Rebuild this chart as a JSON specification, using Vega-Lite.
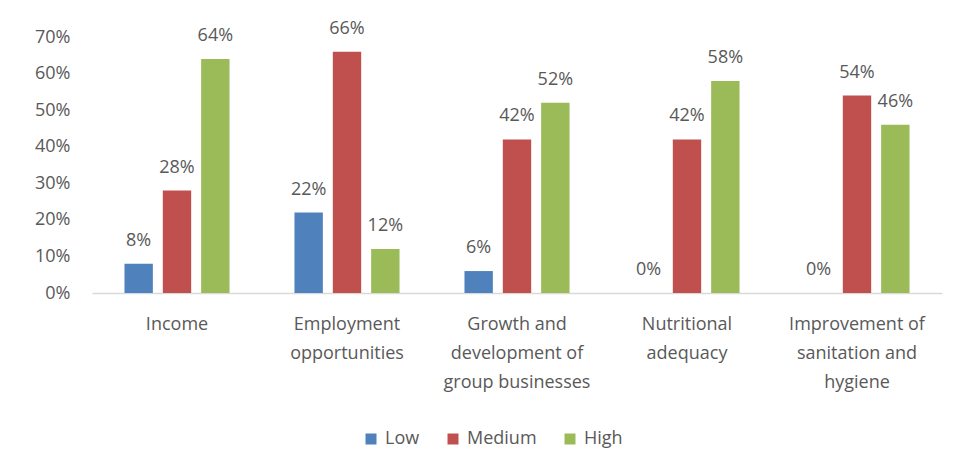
{
  "$schema": "https://vega.github.io/schema/vega-lite/v6.json",
  "width": 850,
  "height": 256,
  "autosize": {"type": "none"},
  "padding": {"left": 92, "top": 37, "right": 18, "bottom": 175},
  "background": "white",
  "config": {
    "view": {"stroke": null},
    "font": "Open Sans",
    "text": {"font": "Open Sans"}
  },
  "data": {
    "values": [
      {"category": "Income", "level": "Low", "value": 0.08},
      {"category": "Income", "level": "Medium", "value": 0.28},
      {"category": "Income", "level": "High", "value": 0.64},
      {"category": "Employment opportunities", "level": "Low", "value": 0.22},
      {"category": "Employment opportunities", "level": "Medium", "value": 0.66},
      {"category": "Employment opportunities", "level": "High", "value": 0.12},
      {"category": "Growth and development of group businesses", "level": "Low", "value": 0.06},
      {"category": "Growth and development of group businesses", "level": "Medium", "value": 0.42},
      {"category": "Growth and development of group businesses", "level": "High", "value": 0.52},
      {"category": "Nutritional adequacy", "level": "Low", "value": 0.0},
      {"category": "Nutritional adequacy", "level": "Medium", "value": 0.42},
      {"category": "Nutritional adequacy", "level": "High", "value": 0.58},
      {"category": "Improvement of sanitation and hygiene", "level": "Low", "value": 0.0},
      {"category": "Improvement of sanitation and hygiene", "level": "Medium", "value": 0.54},
      {"category": "Improvement of sanitation and hygiene", "level": "High", "value": 0.46}
    ]
  },
  "encoding": {
    "x": {
      "field": "category",
      "type": "nominal",
      "sort": null,
      "scale": {"paddingInner": 0.382, "paddingOuter": 0.191},
      "axis": {
        "title": null,
        "labelAngle": 0,
        "labelFontSize": 18,
        "labelColor": "#595959",
        "labelFont": "Open Sans",
        "labelLimit": 300,
        "labelPadding": 22,
        "labelLineHeight": 29,
        "labelBaseline": "top",
        "ticks": false,
        "tickSize": 0,
        "domainColor": "#D9D9D9",
        "domainWidth": 1.5,
        "labelExpr": "datum.value == 'Employment opportunities' ? ['Employment', 'opportunities'] : datum.value == 'Growth and development of group businesses' ? ['Growth and', 'development of', 'group businesses'] : datum.value == 'Nutritional adequacy' ? ['Nutritional', 'adequacy'] : datum.value == 'Improvement of sanitation and hygiene' ? ['Improvement of', 'sanitation and', 'hygiene'] : datum.value"
      }
    },
    "xOffset": {
      "field": "level",
      "type": "nominal",
      "sort": ["Low", "Medium", "High"],
      "scale": {"paddingInner": 0.26, "paddingOuter": 0}
    },
    "y": {
      "field": "value",
      "type": "quantitative",
      "scale": {"domain": [0, 0.7], "nice": false},
      "axis": {
        "title": null,
        "format": ".0%",
        "values": [0, 0.1, 0.2, 0.3, 0.4, 0.5, 0.6, 0.7],
        "grid": false,
        "domain": false,
        "ticks": false,
        "tickSize": 0,
        "labelPadding": 22,
        "labelFontSize": 18,
        "labelColor": "#595959",
        "labelFont": "Open Sans"
      }
    }
  },
  "layer": [
    {
      "mark": {"type": "bar"},
      "encoding": {
        "color": {
          "field": "level",
          "type": "nominal",
          "sort": ["Low", "Medium", "High"],
          "scale": {"domain": ["Low", "Medium", "High"], "range": ["#4F81BD", "#C0504D", "#9BBB59"]},
          "legend": {
            "title": null,
            "orient": "none",
            "direction": "horizontal",
            "legendX": 270,
            "legendY": 393,
            "symbolType": "square",
            "symbolSize": 121,
            "symbolStrokeWidth": 0,
            "labelFontSize": 18,
            "labelColor": "#595959",
            "labelFont": "Open Sans",
            "labelOffset": 5,
            "columnPadding": 24
          }
        }
      }
    },
    {
      "mark": {"type": "text", "baseline": "middle", "dy": -23, "fontSize": 18, "color": "#595959", "font": "Open Sans"},
      "encoding": {
        "text": {"field": "value", "type": "quantitative", "format": ".0%"}
      }
    }
  ]
}
